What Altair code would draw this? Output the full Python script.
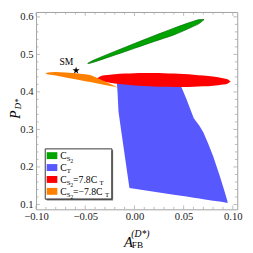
import altair as alt
import pandas as pd

# ---------------- data ----------------
series = ["CS2", "CT", "CS2 =7.8CT", "CS2 =−7.8CT"]
colors = ["#00a400", "#5858ff", "#ff0000", "#ff8000"]

green_x = [-0.0475, -0.045, -0.04, -0.03, -0.02, -0.01, 0.0, 0.01, 0.02, 0.03, 0.04, 0.05, 0.06, 0.066, 0.0708]
green_upper = [0.4760, 0.4800, 0.4862, 0.4973, 0.5079, 0.5185, 0.5290, 0.5394, 0.5498, 0.5598, 0.5699, 0.5794, 0.5883, 0.5927, 0.5930]
green_lower = [0.4760, 0.4767, 0.4804, 0.4893, 0.4981, 0.5070, 0.5162, 0.5253, 0.5343, 0.5431, 0.5520, 0.5629, 0.5748, 0.5827, 0.5930]

blue_x = [-0.0180, -0.0172, -0.0162, -0.0132, -0.0100, -0.0051, 0.0, 0.02, 0.04, 0.0473, 0.053, 0.0603, 0.066, 0.0701, 0.075, 0.0799, 0.0865, 0.091, 0.0946]
blue_upper = [0.438, 0.443, 0.441, 0.438, 0.436, 0.434, 0.432, 0.428, 0.424, 0.416, 0.380, 0.330, 0.310, 0.292, 0.262, 0.229, 0.178, 0.140, 0.108]
blue_lower = [0.432, 0.400, 0.347, 0.292, 0.233, 0.144, 0.142, 0.134, 0.126, 0.123, 0.121, 0.118, 0.116, 0.114, 0.112, 0.110, 0.108, 0.106, 0.104]

red_x = [-0.0384, -0.035, -0.03, -0.02, -0.01, 0.0, 0.01, 0.02, 0.03, 0.04, 0.05, 0.06, 0.07, 0.08, 0.09, 0.095, 0.0978]
red_upper = [0.4360, 0.4414, 0.4442, 0.4472, 0.4489, 0.4498, 0.4502, 0.4502, 0.4498, 0.4490, 0.4477, 0.4460, 0.4438, 0.4408, 0.4365, 0.4329, 0.4276]
red_lower = [0.4360, 0.4302, 0.4268, 0.4226, 0.4197, 0.4174, 0.4158, 0.4146, 0.4138, 0.4134, 0.4133, 0.4138, 0.4148, 0.4166, 0.4197, 0.4227, 0.4276]

orange_x = [-0.0905, -0.088, -0.085, -0.08, -0.07, -0.06, -0.05, -0.045, -0.04, -0.03, -0.02, -0.0155]
orange_upper = [0.449, 0.4515, 0.4525, 0.453, 0.452, 0.450, 0.447, 0.445, 0.440, 0.428, 0.416, 0.410]
orange_lower = [0.449, 0.4465, 0.4455, 0.4437, 0.4387, 0.4337, 0.4287, 0.4262, 0.4237, 0.4187, 0.4137, 0.410]

sm_x = [-0.0593]
sm_y = [0.457]
sm_label = ["SM"]

x_major = [-0.10, -0.05, 0.0, 0.05, 0.10]
x_minor = [-0.09, -0.08, -0.07, -0.06, -0.04, -0.03, -0.02, -0.01, 0.01, 0.02, 0.03, 0.04, 0.06, 0.07, 0.08, 0.09]
y_major = [0.1, 0.2, 0.3, 0.4, 0.5, 0.6]
y_minor = [0.12, 0.14, 0.16, 0.18, 0.22, 0.24, 0.26, 0.28, 0.32, 0.34, 0.36, 0.38,
           0.42, 0.44, 0.46, 0.48, 0.52, 0.54, 0.56, 0.58]

# legend label pieces: (text, level) level 0 normal, 1 subscript, 2 sub-subscript
legend_rich = [
    [("C", 0), ("S", 1), ("2", 2)],
    [("C", 0), ("T", 1)],
    [("C", 0), ("S", 1), ("2", 2), (" =7.8C", 0), ("T", 1)],
    [("C", 0), ("S", 1), ("2", 2), (" =−7.8C", 0), ("T", 1)],
]

# ---------------- layout ----------------
W, H = 208, 204
FONT = "Liberation Serif"
xs = alt.Scale(domain=[-0.1, 0.1045], nice=False, zero=False)
ys = alt.Scale(domain=[0.087, 0.613], nice=False, zero=False)
xaxis = alt.Axis(values=x_major, format=".2f", ticks=False, domain=False, grid=False,
                 title=None, labelFont=FONT, labelFontSize=11, labelColor="#222",
                 labelPadding=2, labelFlush=False, labelOverlap=False)
yaxis = alt.Axis(values=y_major, format=".1f", ticks=False, domain=False, grid=False,
                 title=None, labelFont=FONT, labelFontSize=11, labelColor="#222",
                 labelPadding=3, labelFlush=False, labelOverlap=False)

LEG_X, LEG_Y, LEG_PAD, ROW_PAD, SYM = 9, 141, 2, 1.3, 11
LABEL_W = 50.7
legend = alt.Legend(
    orient="none", legendX=LEG_X, legendY=LEG_Y, title=None,
    symbolType="M-1,-0.65L1,-0.65L1,0.65L-1,0.65Z", symbolSize=SYM * SYM,
    symbolStrokeWidth=0, symbolOpacity=1, labelFontSize=9, labelOpacity=0,
    labelFont=FONT, labelOffset=3, padding=LEG_PAD, rowPadding=ROW_PAD,
    strokeColor="#333", offset=0,
)
color_scale = alt.Scale(domain=series, range=colors)


def region(name, xv, up, lo, interp, **kw):
    df = pd.DataFrame({"series": name, "x": xv, "y": up, "y2": lo})
    return alt.Chart(df).mark_area(interpolate=interp, opacity=1, **kw).encode(
        x=alt.X("x:Q", scale=xs, axis=xaxis),
        y=alt.Y("y:Q", scale=ys, axis=yaxis),
        y2="y2:Q",
        color=alt.Color("series:N", scale=color_scale, legend=legend),
    )


layers = []
layers.append(region(series[0], green_x, green_upper, green_lower, "monotone",
                     stroke="#006a00", strokeWidth=0.7))
layers.append(region(series[1], blue_x, blue_upper, blue_lower, "linear"))
layers.append(region(series[2], red_x, red_upper, red_lower, "monotone"))
layers.append(region(series[3], orange_x, orange_upper, orange_lower, "linear"))

# frame ticks (inward) on all four sides
def yticks(vals, length, side):
    df = pd.DataFrame({"v": vals})
    x0 = 0 if side == "left" else W
    x1 = length if side == "left" else W - length
    return alt.Chart(df).mark_rule(color="#aaa", strokeWidth=0.8).encode(
        y=alt.Y("v:Q", scale=ys, axis=yaxis), x=alt.value(x0), x2=alt.value(x1))


def xticks(vals, length, side):
    df = pd.DataFrame({"v": vals})
    y0 = H if side == "bottom" else 0
    y1 = H - length if side == "bottom" else length
    return alt.Chart(df).mark_rule(color="#aaa", strokeWidth=0.8).encode(
        x=alt.X("v:Q", scale=xs, axis=xaxis), y=alt.value(y0), y2=alt.value(y1))


for side in ["left", "right"]:
    layers.append(yticks(y_major, 4, side))
    layers.append(yticks(y_minor, 2.5, side))
for side in ["bottom", "top"]:
    layers.append(xticks(x_major, 4, side))
    layers.append(xticks(x_minor, 2.5, side))

# SM point
sm_df = pd.DataFrame({"x": sm_x, "y": sm_y, "label": sm_label})
star = "M0,-1L0.2245,-0.309L0.951,-0.309L0.363,0.118L0.588,0.809L0,0.382L-0.588,0.809L-0.363,0.118L-0.951,-0.309L-0.2245,-0.309Z"
layers.append(alt.Chart(sm_df).mark_point(shape=star, size=60, filled=True, color="black", opacity=1).encode(
    x=alt.X("x:Q", scale=xs, axis=xaxis), y=alt.Y("y:Q", scale=ys, axis=yaxis)))
layers.append(alt.Chart(sm_df).mark_text(font=FONT, fontSize=10, color="black", dx=-10, dy=-9,
                                         align="center", baseline="middle").encode(
    x=alt.X("x:Q", scale=xs, axis=xaxis), y=alt.Y("y:Q", scale=ys, axis=yaxis), text="label:N"))

# legend shadow and white box (the legend itself draws border and swatches)
leg_w = 2 * LEG_PAD + SYM + 3 + LABEL_W
leg_h = 2 * LEG_PAD + 4 * SYM + 3 * ROW_PAD
layers.append(alt.Chart(sm_df).mark_rect(color="#808080").encode(
    x=alt.value(LEG_X + 2), x2=alt.value(LEG_X + leg_w + 2),
    y=alt.value(LEG_Y + 2), y2=alt.value(LEG_Y + leg_h + 2)))
layers.append(alt.Chart(sm_df).mark_rect(color="white").encode(
    x=alt.value(LEG_X), x2=alt.value(LEG_X + leg_w),
    y=alt.value(LEG_Y), y2=alt.value(LEG_Y + leg_h)))

# text pieces
EM = {"C": 0.667, "S": 0.556, "T": 0.611, "2": 0.5, " ": 0.25, "=": 0.564, "−": 0.564,
      "7": 0.5, ".": 0.25, "8": 0.5}
SIZES = {0: 10, 1: 7, 2: 5.5}
SHIFT = {0: 0, 1: 2.5, 2: 4.0}


def txt(s, x, y, size, italic=False, angle=0, align="left"):
    kw = dict(font=FONT, fontSize=size, color="black", align=align, baseline="alphabetic")
    if italic:
        kw["fontStyle"] = "italic"
    if angle:
        kw["angle"] = angle
    return alt.Chart(sm_df).mark_text(**kw).encode(
        x=alt.value(x), y=alt.value(y), text=alt.value(s))


x_start = LEG_X + LEG_PAD + SYM + 3
for i, pieces in enumerate(legend_rich):
    base_y = LEG_Y + LEG_PAD + i * (SYM + ROW_PAD) + SYM / 2 + 3.4
    cx = x_start
    for s, lvl in pieces:
        layers.append(txt(s, cx, base_y + SHIFT[lvl], SIZES[lvl]))
        cx += sum(EM.get(ch, 0.5) for ch in s) * SIZES[lvl]

# axis titles
layers.append(txt("A", 91, 242.8, 15, italic=True))
layers.append(txt("(D*)", 98.5, 232.5, 10, italic=True))
layers.append(txt("FB", 99, 244, 9.5))
layers.append(txt("P", -17, 106, 14, italic=True, angle=270, align="center"))
layers.append(txt("D*", -15.5, 95, 9, italic=True, angle=270, align="center"))

chart = alt.layer(*layers).properties(
    width=W, height=H,
    autosize=alt.AutoSizeParams(type="none"),
    padding={"left": 29, "top": 0, "right": 8, "bottom": 41},
).configure_view(stroke="#a0a0a0", strokeWidth=1)

chart.save("out.html", embed_options={"renderer": "svg", "actions": False})
